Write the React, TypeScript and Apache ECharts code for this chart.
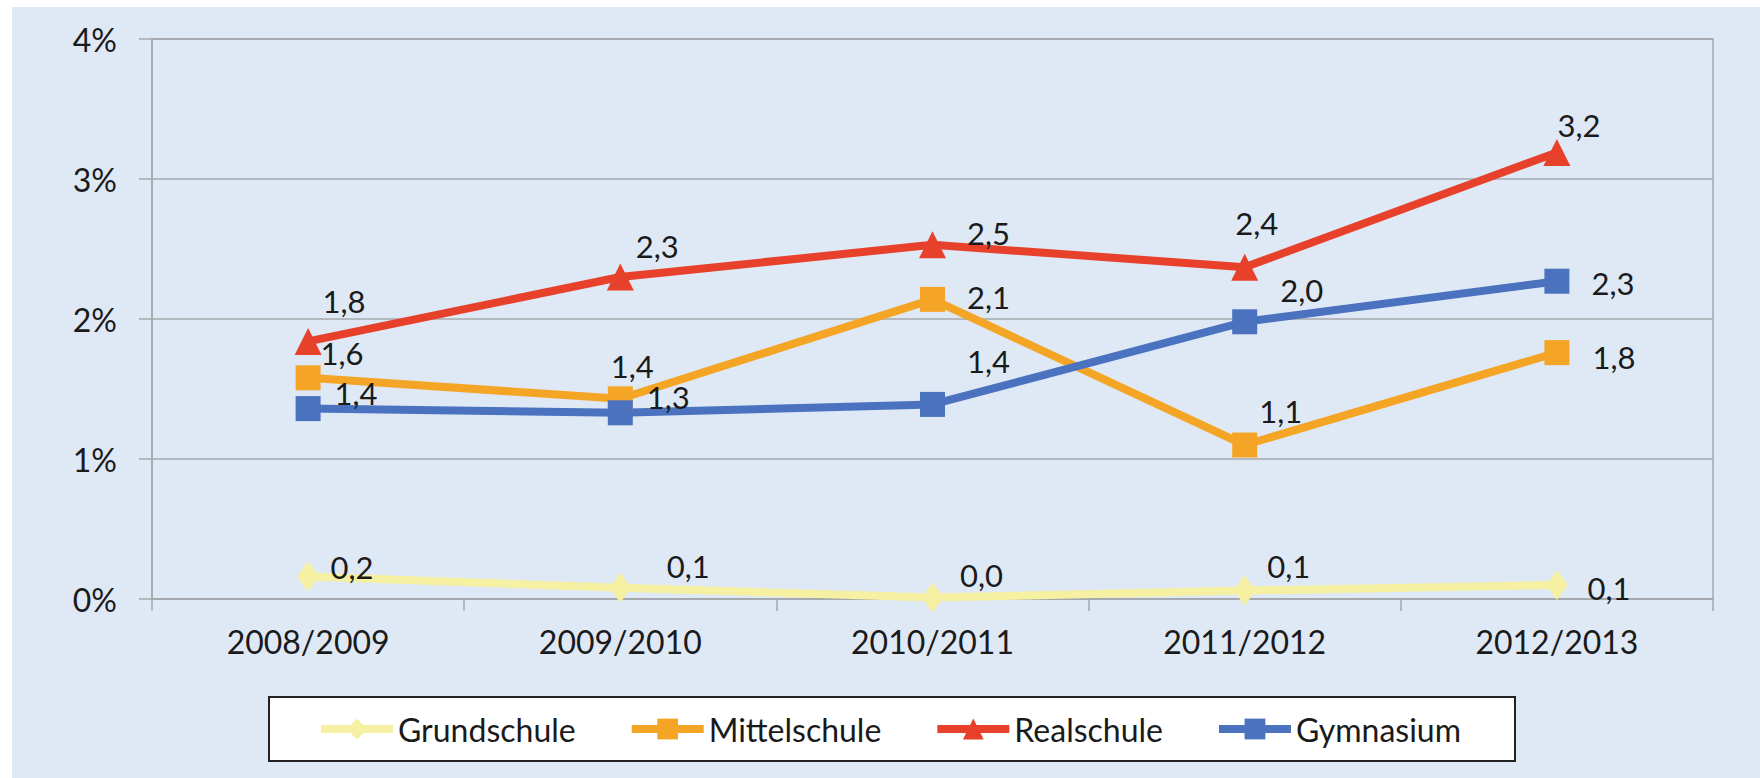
import React, { useEffect, useRef } from "react";
import * as echarts from "echarts";

const categories = ["2008/2009", "2009/2010", "2010/2011", "2011/2012", "2012/2013"];
const grundschule = [0.16, 0.08, 0.01, 0.06, 0.1];
const mittelschule = [1.58, 1.43, 2.14, 1.1, 1.76];
const realschule = [1.84, 2.3, 2.53, 2.37, 3.19];
const gymnasium = [1.36, 1.33, 1.39, 1.98, 2.27];
const seriesNames = ["Grundschule", "Mittelschule", "Realschule", "Gymnasium"];

// label placement (layout only), offsets from the marker centre
const grundOffsets = [[44, -10], [68, -22], [49, -23], [44, -25], [52, 3]];
const mittelOffsets = [[34, -25], [12, -33], [56, -2], [36, -34], [57, 4]];
const realOffsets = [[36, -40], [37, -31], [56, -12], [12, -44], [22, -27]];
const gymOffsets = [[48, -16], [48, -16], [56, -43], [57, -32], [56, 2]];

const FONT = 'Lato, "Noto Sans", sans-serif';
const TEXT = "#1a1a1a";

function makeSeries(
  name: string,
  values: number[],
  offsets: number[][],
  color: string,
  symbol: string,
  symbolSize: any
) {
  return {
    name,
    type: "line",
    data: values.map((v, i) => ({ value: v, label: { offset: offsets[i] } })),
    symbol,
    symbolSize,
    showAllSymbol: true,
    lineStyle: { color, width: 8 },
    itemStyle: { color, borderWidth: 0 },
    label: {
      show: true,
      position: "inside",
      fontFamily: FONT,
      fontSize: 31,
      color: TEXT,
      formatter: (p: any) => Number(p.value).toFixed(1).replace(".", ","),
    },
    emphasis: { disabled: true },
  };
}

export default function App() {
  const ref = useRef<HTMLDivElement>(null);
  useEffect(() => {
    if (!ref.current) return;
    const chart = echarts.init(ref.current, undefined, { renderer: "svg" });
    chart.setOption({
      animation: false,
      backgroundColor: "transparent",
      textStyle: { fontFamily: FONT },
      grid: {
        left: 140,
        top: 32,
        width: 1561,
        height: 560,
        show: true,
        borderColor: "#a4a8ad",
        borderWidth: 1.5,
        backgroundColor: "transparent",
        containLabel: false,
      },
      legend: {
        data: seriesNames,
        left: 257,
        top: 690,
        orient: "horizontal",
        backgroundColor: "#ffffff",
        borderColor: "#222222",
        borderWidth: 2,
        borderRadius: 0,
        padding: [16, 54, 16, 48],
        itemWidth: 72,
        itemHeight: 26,
        itemGap: 52,
        lineStyle: { width: 8 },
        textStyle: { fontFamily: FONT, fontSize: 32, color: TEXT, lineHeight: 32 },
      },
      xAxis: {
        type: "category",
        data: categories,
        boundaryGap: true,
        axisLine: { show: true, lineStyle: { color: "#a4a8ad", width: 1.5 } },
        axisTick: { show: true, length: 12, lineStyle: { color: "#a4a8ad", width: 1.5 } },
        axisLabel: { fontFamily: FONT, fontSize: 32, color: TEXT, margin: 26 },
        splitLine: { show: false },
      },
      yAxis: {
        type: "value",
        min: 0,
        max: 4,
        interval: 1,
        axisLine: { show: true, lineStyle: { color: "#a4a8ad", width: 1.5 } },
        axisTick: { show: true, length: 13, lineStyle: { color: "#a4a8ad", width: 1.5 } },
        axisLabel: {
          fontFamily: FONT,
          fontSize: 32,
          color: TEXT,
          margin: 35,
          formatter: (v: number) => v + "%",
        },
        splitLine: { show: true, lineStyle: { color: "#a4a8ad", width: 1.5 } },
      },
      series: [
        makeSeries(seriesNames[0], grundschule, grundOffsets, "#f6f0a2", "diamond", [22, 30]),
        makeSeries(seriesNames[1], mittelschule, mittelOffsets, "#f5a526", "rect", 25),
        makeSeries(seriesNames[2], realschule, realOffsets, "#e8412b", "triangle", 27),
        makeSeries(seriesNames[3], gymnasium, gymOffsets, "#4a72bf", "rect", 25),
      ],
    });
    return () => chart.dispose();
  }, []);
  return (
    <div style={{ position: "fixed", left: 0, top: 0, width: 1760, height: 778, background: "#ffffff" }}>
      <div
        ref={ref}
        style={{
          position: "absolute",
          left: 12,
          top: 7,
          width: 1748,
          height: 771,
          background: "#dfe9f6",
        }}
      />
    </div>
  );
}
